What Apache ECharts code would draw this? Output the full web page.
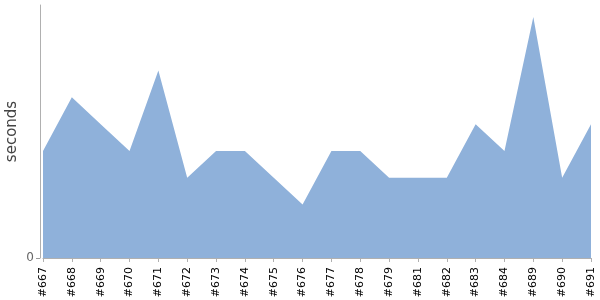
<!DOCTYPE html>
<html>
<head>
<meta charset="utf-8">
<script src="https://cdn.jsdelivr.net/npm/echarts@6/dist/echarts.min.js"></script>
<style>html,body{margin:0;padding:0;background:#fff}#c{width:600px;height:300px}</style>
</head>
<body>
<div id="c"></div>
<script>
var builds = ["#667","#668","#669","#670","#671","#672","#673","#674","#675","#676","#677","#678","#679","#681","#682","#683","#684","#689","#690","#691"];
var seconds = [4,6,5,4,7,3,4,4,3,2,4,4,3,3,3,5,4,9,3,5];
var yMax = 9.45;
var yTicks = [0];

var chart = echarts.init(document.getElementById('c'), null, {renderer:'canvas'});
chart.setOption({
  animation:false,
  grid:{left:43,right:9,top:5,bottom:42,containLabel:false,outerBoundsMode:'none'},
  xAxis:{
    type:'category',
    data:builds,
    boundaryGap:false,
    offset:4,
    axisLine:{lineStyle:{color:'#b0b0b0',width:1}},
    axisTick:{show:true,alignWithLabel:true,length:4,lineStyle:{color:'#b0b0b0'}},
    axisLabel:{rotate:90,interval:0,margin:5,fontSize:11,color:'#000',fontFamily:'DejaVu Sans'},
    splitLine:{show:false}
  },
  yAxis:{
    type:'value',
    min:0,max:yMax,
    offset:3,
    name:'seconds',
    nameLocation:'middle',
    nameGap:20,
    nameMoveOverlap:false,
    nameTextStyle:{fontSize:15,color:'#444',fontFamily:'DejaVu Sans'},
    axisLine:{show:true,lineStyle:{color:'#b0b0b0',width:1}},
    axisTick:{show:true,length:4,customValues:yTicks,lineStyle:{color:'#999'}},
    axisLabel:{fontSize:12,color:'#666',fontFamily:'DejaVu Sans',margin:6,customValues:yTicks},
    splitLine:{show:false}
  },
  series:[{
    type:'line',
    data:seconds,
    symbol:'none',
    lineStyle:{width:0,color:'#8fb1da'},
    areaStyle:{color:'#8fb1da',opacity:1}
  }]
});
</script>
</body>
</html>
